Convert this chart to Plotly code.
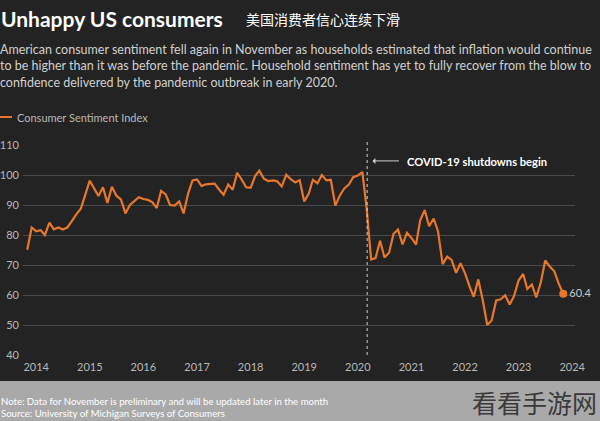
import plotly.graph_objects as go

# ---- data ----
months = [f"{y}-{m:02d}-01" for y in range(2013, 2024) for m in range(1, 13)]
months = [d for d in months if "2013-11-01" <= d <= "2023-11-01"]
sentiment = [
    75.1, 82.5,
    81.2, 81.6, 80.0, 84.1, 81.9, 82.5, 81.8, 82.5, 84.6, 86.9, 88.8, 93.6,
    98.1, 95.4, 93.0, 95.9, 90.7, 96.1, 93.1, 91.9, 87.2, 90.0, 91.3, 92.6,
    92.0, 91.7, 91.0, 89.0, 94.7, 93.5, 90.0, 89.8, 91.2, 87.2, 93.8, 98.2,
    98.5, 96.3, 96.9, 97.0, 97.1, 95.1, 93.4, 96.8, 95.1, 100.7, 98.5, 95.9,
    95.7, 99.7, 101.4, 98.8, 98.0, 98.2, 97.9, 96.2, 100.1, 98.6, 97.5, 98.3,
    91.2, 93.8, 98.4, 97.2, 100.0, 98.2, 98.4, 89.8, 93.2, 95.5, 96.8, 99.3,
    99.8, 101.0, 89.1, 71.8, 72.3, 78.1, 72.5, 74.1, 80.4, 81.8, 76.9, 80.7,
    79.0, 76.8, 84.9, 88.3, 82.9, 85.5, 81.2, 70.3, 72.8, 71.7, 67.4, 70.6,
    67.2, 62.8, 59.4, 65.2, 58.4, 50.0, 51.5, 58.2, 58.6, 59.9, 56.8, 59.7,
    64.9, 67.0, 62.0, 63.5, 59.2, 64.2, 71.5, 69.5, 67.9, 63.8, 60.4,
]
y_ticks = [40, 50, 60, 70, 80, 90, 100, 110]
x_ticks = [f"{y}-01-01" for y in range(2014, 2025)]
x_tick_labels = [str(y) for y in range(2014, 2025)]
covid_date = "2020-03-05"

BG = "#232323"
ORANGE = "#e8772e"
GRID = "#4a4a4a"
FONT = "Lato"

L, R, T, B = 23, 575, 145, 355
def px(x):
    return (x - L) / (R - L)
def py(y):
    return (B - y) / (B - T)

fig = go.Figure()
fig.add_trace(go.Scatter(
    x=months, y=sentiment, mode="lines",
    line=dict(color=ORANGE, width=2.2), hoverinfo="x+y", showlegend=False,
))
fig.add_trace(go.Scatter(
    x=[months[-1]], y=[sentiment[-1]], mode="markers+text",
    marker=dict(color=ORANGE, size=8),
    text=[f"{sentiment[-1]:.1f}"], textposition="middle right",
    textfont=dict(color="#c8c8c8", size=11, family=FONT),
    showlegend=False, cliponaxis=False,
))

shapes = [
    # footer band
    dict(type="rect", xref="paper", yref="paper",
         x0=px(-5), x1=px(605), y0=py(381), y1=py(425),
         fillcolor="#a9a9a9", line=dict(width=0), layer="below"),
    # covid dotted line
    dict(type="line", xref="x", yref="paper", x0=covid_date, x1=covid_date,
         y0=0, y1=1.02, line=dict(color="#d0d0d0", width=1, dash="dot")),
    # legend line
    dict(type="line", xref="paper", yref="paper",
         x0=px(0), x1=px(12), y0=py(117), y1=py(117),
         line=dict(color=ORANGE, width=2)),
]

annotations = [
    dict(text="<b>Unhappy US consumers</b>", x=px(-1), y=py(19), xref="paper", yref="paper",
         xanchor="left", yanchor="middle", showarrow=False,
         font=dict(color="white", size=21, family=FONT)),
    dict(text="美国消费者信心连续下滑", x=px(244), y=py(19), xref="paper", yref="paper",
         xanchor="left", yanchor="middle", showarrow=False,
         font=dict(color="white", size=14, family="Noto Sans CJK SC")),
    dict(text="American consumer sentiment fell again in November as households estimated that inflation would continue<br>"
              "to be higher than it was before the pandemic. Household sentiment has yet to fully recover from the blow to<br>"
              "confidence delivered by the pandemic outbreak in early 2020.",
         x=px(-2), y=py(40), xref="paper", yref="paper", xanchor="left", yanchor="top",
         align="left", showarrow=False,
         font=dict(color="#d0d0d0", size=12.5, family=FONT)),
    dict(text="Consumer Sentiment Index", x=px(15), y=py(117), xref="paper", yref="paper",
         xanchor="left", yanchor="middle", showarrow=False,
         font=dict(color="#b8b8b8", size=11, family=FONT)),
    dict(text="", x="2020-04-10", y=104.7, xref="x", yref="y",
         ax=28, ay=0, axref="pixel", ayref="pixel", showarrow=True,
         arrowhead=1, arrowsize=1, arrowwidth=1, arrowcolor="#cfcfcf"),
    dict(text="<b>COVID-19 shutdowns begin</b>", x=px(405), y=py(161), xref="paper", yref="paper",
         xanchor="left", yanchor="middle", showarrow=False,
         font=dict(color="white", size=11.2, family=FONT)),
    dict(text="Note: Data for November is preliminary and will be updated later in the month<br>"
              "Source: University of Michigan Surveys of Consumers",
         x=px(-1), y=py(407), xref="paper", yref="paper", xanchor="left", yanchor="middle",
         align="left", showarrow=False,
         font=dict(color="white", size=9.6, family=FONT)),
    dict(text="看看手游网", x=px(599), y=py(402), xref="paper", yref="paper",
         xanchor="right", yanchor="middle", showarrow=False,
         font=dict(color="#3a3a3a", size=25, family="Noto Sans CJK SC")),
]

fig.update_layout(
    width=600, height=421,
    margin=dict(l=L, r=600 - R, t=T, b=421 - B, autoexpand=False),
    paper_bgcolor=BG, plot_bgcolor=BG,
    font=dict(family=FONT, color="#b8b8b8", size=11),
    shapes=shapes, annotations=annotations,
    xaxis=dict(type="date", range=["2013-10-03", "2024-01-20"],
               tickvals=x_ticks, ticktext=x_tick_labels, automargin=False,
               showgrid=False, zeroline=False, showline=False, ticks="",
               tickfont=dict(color="#b8b8b8", size=11), ticklabelstandoff=4),
    yaxis=dict(range=[40, 110], tickvals=y_ticks, showgrid=True, automargin=False,
               gridcolor=GRID, gridwidth=1, zeroline=False, showline=False,
               ticks="", tickfont=dict(color="#b8b8b8", size=11), ticklabelstandoff=3),
)

fig.write_html("out.html", config={"displayModeBar": False},
               post_script="document.body.style.margin='0px';document.body.style.background='#232323';")
